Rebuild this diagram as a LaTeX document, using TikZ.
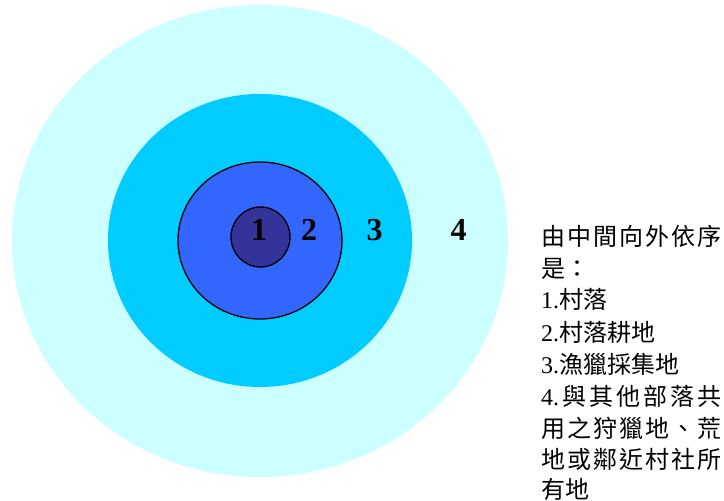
\documentclass[tikz,border=0pt]{standalone}
\usepackage{fontspec}
\setmainfont{Liberation Serif}
\newfontfamily\cjk{Noto Sans CJK TC}
\definecolor{ringA}{HTML}{CCFFFF}
\definecolor{ringB}{HTML}{00CCFF}
\definecolor{ringC}{HTML}{3366FF}
\definecolor{ringD}{HTML}{333399}
\newcommand{\latn}[1]{{\fontsize{24}{24}\selectfont #1}}
\newcommand{\han}[1]{{\fontsize{24}{24}\cjk #1}}
\begin{document}
\begin{tikzpicture}[x=1pt,y=1pt,
  numlbl/.style={font=\fontsize{32}{32}\selectfont\bfseries, inner sep=0pt},
  legline/.style={anchor=west, inner sep=0pt, text height=21pt, text depth=0pt}]
\useasboundingbox (0,0) rectangle (724,501);
\fill[ringA] (260,260) ellipse [x radius=248, y radius=236];
\fill[ringB] (260,260.5) ellipse [x radius=152, y radius=146.5];
\draw[fill=ringC, line width=1.3pt] (260,260.5) ellipse [x radius=82, y radius=78.5];
\draw[fill=ringD, line width=1.3pt] (260.5,264) ellipse [x radius=29.5, y radius=30];
\node[numlbl] (n1) at (259,271) {1};
\node[numlbl] (n2) at (309,271) {2};
\node[numlbl] (n3) at (374.5,271) {3};
\node[numlbl] (n4) at (458.5,271) {4};
% legend
\node[legline] (l1) at (541,266) {\makebox[180pt][s]{\han{由}\hfill\han{中}\hfill\han{間}\hfill\han{向}\hfill\han{外}\hfill\han{依}\hfill\han{序}}};
\node[legline] (l2) at (541,234) {\han{是：}};
\node[legline] (l3) at (541,203) {\latn{1.}\han{村落}};
\node[legline] (l4) at (541,170) {\latn{2.}\han{村落耕地}};
\node[legline] (l5) at (541,138) {\latn{3.}\han{漁獵採集地}};
\node[legline] (l6) at (541,106) {\makebox[180pt][s]{\latn{4.}\hfill\han{與}\hfill\han{其}\hfill\han{他}\hfill\han{部}\hfill\han{落}\hfill\han{共}}};
\node[legline] (l7) at (541,74) {\makebox[180pt][s]{\han{用}\hfill\han{之}\hfill\han{狩}\hfill\han{獵}\hfill\han{地}\hfill\han{、}\hfill\han{荒}}};
\node[legline] (l8) at (541,43) {\makebox[180pt][s]{\han{地}\hfill\han{或}\hfill\han{鄰}\hfill\han{近}\hfill\han{村}\hfill\han{社}\hfill\han{所}}};
\node[legline] (l9) at (541,13) {\han{有地}};
\end{tikzpicture}
\end{document}
